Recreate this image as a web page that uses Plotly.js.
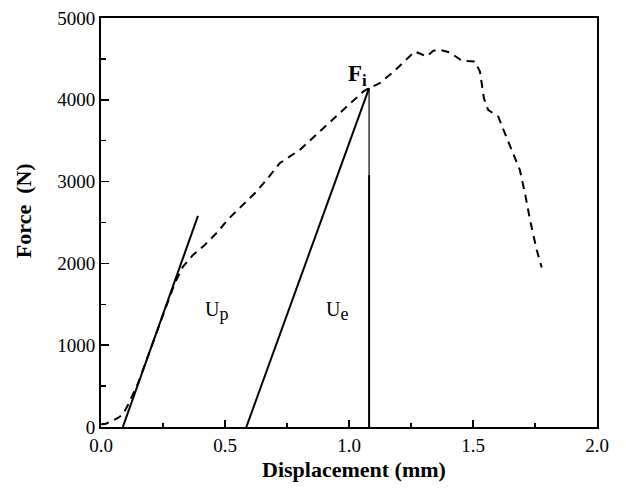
<!DOCTYPE html>
<html>
<head>
<meta charset="utf-8">
<script src="https://cdn.plot.ly/plotly-3.0.1.min.js"></script>
<style>html,body{margin:0;padding:0;background:#fff;}</style>
</head>
<body>
<div id="chart" style="width:626px;height:494px;"></div>
<script>
// Measured load-displacement curve (dashed)
const curveX = [0.0, 0.02, 0.045, 0.068, 0.09, 0.108, 0.15, 0.2, 0.25, 0.297, 0.33, 0.37, 0.418, 0.471, 0.512, 0.559, 0.62, 0.667, 0.72, 0.801, 0.882, 0.949, 1.01, 1.057, 1.081, 1.124, 1.18, 1.225, 1.265, 1.29, 1.313, 1.34, 1.366, 1.407, 1.454, 1.508, 1.528, 1.535, 1.544, 1.561, 1.602, 1.622, 1.655, 1.689, 1.71, 1.73, 1.757, 1.777];
const curveF = [35, 40, 75, 110, 160, 265, 540, 960, 1385, 1755, 1958, 2100, 2224, 2387, 2538, 2673, 2857, 3020, 3224, 3387, 3611, 3794, 3958, 4100, 4142, 4203, 4345, 4480, 4590, 4560, 4529, 4600, 4611, 4578, 4480, 4467, 4345, 4203, 4020, 3876, 3794, 3640, 3400, 3142, 2850, 2530, 2163, 1950];
// Plastic energy line
const plasticX = [0.088, 0.391];
const plasticF = [0, 2580];
// Elastic unloading line
const elasticX = [0.586, 1.081];
const elasticF = [0, 4142];
// Vertical drop from Fi
const dropTopX = [1.081, 1.081];
const dropTopF = [4142, 3080];
const dropBotX = [1.081, 1.081];
const dropBotF = [3080, 0];
// Labels
const labelText = ['U<sub><span style="font-size:18px">p</span></sub>', 'U<sub><span style="font-size:18px">e</span></sub>'];
const labelX = [0.466, 0.95];
const labelF = [1420, 1420];
const peakLabel = '<b>F<sub><span style="font-size:17px">i</span></sub></b>';
const peakX = 1.081, peakF = 4142;
const xTitle = '<b>Displacement (mm)</b>';
const yTitle = '<b>Force  (N)</b>';

const serif = 'Liberation Serif, Times New Roman, serif';
const traces = [
  {x: curveX, y: curveF, mode: 'lines', line: {color: '#000', width: 2, dash: '8px,6px'}, hoverinfo: 'skip'},
  {x: plasticX, y: plasticF, mode: 'lines', line: {color: '#000', width: 2}, hoverinfo: 'skip'},
  {x: elasticX, y: elasticF, mode: 'lines', line: {color: '#000', width: 2}, hoverinfo: 'skip'},
  {x: dropTopX, y: dropTopF, mode: 'lines', line: {color: '#000', width: 1.2}, hoverinfo: 'skip'},
  {x: dropBotX, y: dropBotF, mode: 'lines', line: {color: '#000', width: 2}, hoverinfo: 'skip'}
];

const annotations = labelText.map((t, i) => ({
  x: labelX[i], y: labelF[i], xref: 'x', yref: 'y', text: t, showarrow: false,
  font: {family: serif, size: 20, color: '#000'}
}));
annotations.push({
  x: peakX, y: peakF, xref: 'x', yref: 'y', text: peakLabel, showarrow: false,
  xanchor: 'right', yanchor: 'bottom', xshift: 0, yshift: -4,
  font: {family: serif, size: 23, color: '#000'}
});
annotations.push({
  x: 0.51, y: -0.105, xref: 'paper', yref: 'paper', text: xTitle, showarrow: false,
  xanchor: 'center', yanchor: 'middle',
  font: {family: serif, size: 22, color: '#000'}
});
annotations.push({
  x: -0.157, y: 0.528, xref: 'paper', yref: 'paper', text: yTitle, showarrow: false,
  textangle: -90, xanchor: 'center', yanchor: 'middle',
  font: {family: serif, size: 22, color: '#000'}
});

const layout = {
  width: 626, height: 494,
  margin: {l: 101, r: 29, t: 18, b: 67},
  paper_bgcolor: '#fff', plot_bgcolor: '#fff',
  showlegend: false,
  font: {family: serif, color: '#000', size: 19},
  xaxis: {
    range: [0, 2.0], dtick: 0.5, tick0: 0, tickformat: '.1f',
    ticks: 'inside', ticklen: 7, tickwidth: 1.5, tickcolor: '#000',
    minor: {dtick: 0.25, ticks: 'inside', ticklen: 4, tickwidth: 1.5, tickcolor: '#000'},
    showline: true, linecolor: '#000', linewidth: 2, mirror: true,
    showgrid: false, zeroline: false,
    tickfont: {family: serif, size: 19, color: '#000'}
  },
  yaxis: {
    range: [0, 5000], dtick: 1000, tick0: 0,
    ticks: 'inside', ticklen: 8, tickwidth: 1.5, tickcolor: '#000',
    minor: {dtick: 500, ticks: 'inside', ticklen: 5, tickwidth: 1.5, tickcolor: '#000'},
    showline: true, linecolor: '#000', linewidth: 2, mirror: true,
    showgrid: false, zeroline: false,
    tickfont: {family: serif, size: 19, color: '#000'}
  },
  annotations: annotations
};

Plotly.newPlot('chart', traces, layout, {displayModeBar: false, staticPlot: true});
</script>
</body>
</html>
